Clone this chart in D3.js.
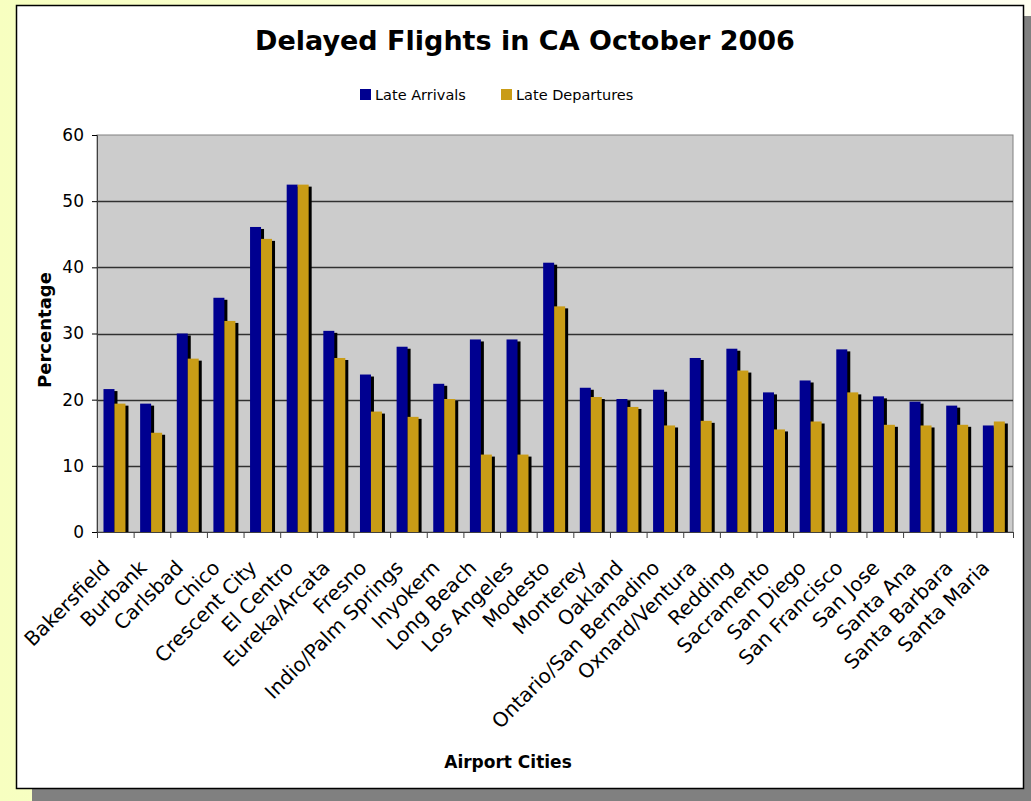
<!DOCTYPE html>
<html>
<head>
<meta charset="utf-8">
<script src="https://cdn.jsdelivr.net/npm/d3@7"></script>
<style>
  html, body { margin: 0; padding: 0; }
  body { width: 1031px; height: 801px; overflow: hidden; }
  text { font-family: "DejaVu Sans", Verdana, sans-serif; fill: #000; }
</style>
</head>
<body>
<script>
const cities = ['Bakersfield', 'Burbank', 'Carlsbad', 'Chico', 'Crescent City', 'El Centro',
  'Eureka/Arcata', 'Fresno', 'Indio/Palm Springs', 'Inyokern', 'Long Beach', 'Los Angeles',
  'Modesto', 'Monterey', 'Oakland', 'Ontario/San Bernadino', 'Oxnard/Ventura', 'Redding',
  'Sacramento', 'San Diego', 'San Francisco', 'San Jose', 'Santa Ana', 'Santa Barbara', 'Santa Maria']
const lateArrivals = [21.6, 19.4, 30.0, 35.4, 46.1, 52.5, 30.4, 23.8, 28.0, 22.4, 29.1, 29.1,
  40.7, 21.8, 20.1, 21.5, 26.3, 27.7, 21.1, 22.9, 27.6, 20.5, 19.7, 19.1, 16.1]
const lateDepartures = [19.4, 15.0, 26.2, 31.9, 44.3, 52.5, 26.3, 18.2, 17.4, 20.1, 11.7, 11.7,
  34.1, 20.4, 18.9, 16.1, 16.8, 24.4, 15.5, 16.7, 21.1, 16.2, 16.1, 16.2, 16.7]
const seriesNames = ['Late Arrivals', 'Late Departures']
const yTicks = [0, 10, 20, 30, 40, 50, 60]

const colors = {
  arrivals: '#000090',
  departures: '#C99C16',
  plot: '#CCCCCC',
  grid: '#303030'
}

const width = 1031
const height = 801
const plot = { left: 97, right: 1013, top: 135, bottom: 532 }

const svg = d3.select('body').append('svg')
  .attr('width', width)
  .attr('height', height)

// page background + framed box with drop shadow
const grad = svg.append('defs').append('linearGradient')
  .attr('id', 'bg').attr('x1', 0).attr('x2', 1).attr('y1', 0).attr('y2', 0)
grad.append('stop').attr('offset', 0).attr('stop-color', '#F7FFC0')
grad.append('stop').attr('offset', 1).attr('stop-color', '#FFFFF0')

svg.append('rect').attr('width', width).attr('height', height).attr('fill', 'url(#bg)')
svg.append('rect')
  .attr('x', 32).attr('y', 16).attr('width', width).attr('height', height)
  .attr('fill', '#808080')
svg.append('rect')
  .attr('x', 16.5).attr('y', 5.5).attr('width', 1007).attr('height', 783)
  .attr('fill', '#fff').attr('stroke', '#000').attr('stroke-width', 1.5)

const x = d3.scaleBand()
  .domain(cities)
  .range([plot.left, plot.right])
const xEdge = d3.scaleLinear()
  .domain([0, cities.length])
  .range([plot.left, plot.right])
const bw = x.bandwidth()
const xs = d3.scaleBand()
  .domain(seriesNames)
  .range([bw * 0.177, bw * 0.777])
const y = d3.scaleLinear()
  .domain([0, 60])
  .range([plot.bottom, plot.top])

// plot area
svg.append('rect')
  .attr('x', plot.left).attr('y', plot.top)
  .attr('width', plot.right - plot.left).attr('height', plot.bottom - plot.top)
  .attr('fill', colors.plot).attr('stroke', '#808080').attr('stroke-width', 1)

// gridlines
svg.append('g')
  .selectAll('line')
  .data(yTicks.filter(d => d > 0 && d < 60))
  .enter()
  .append('line')
  .attr('x1', plot.left).attr('x2', plot.right)
  .attr('y1', d => Math.round(y(d)) + 0.5).attr('y2', d => Math.round(y(d)) + 0.5)
  .attr('stroke', colors.grid).attr('stroke-width', 1.3)

// bars with black shadow
const series = [
  { name: seriesNames[0], values: lateArrivals, color: colors.arrivals },
  { name: seriesNames[1], values: lateDepartures, color: colors.departures }
]
series.forEach(s => {
  const g = svg.append('g')
  g.selectAll('rect.shadow')
    .data(s.values)
    .enter()
    .append('rect')
    .attr('class', 'shadow')
    .attr('x', (d, i) => x(cities[i]) + xs(s.name) + 3)
    .attr('y', d => y(d) + 2)
    .attr('width', xs.bandwidth())
    .attr('height', d => plot.bottom - y(d) - 2)
    .attr('fill', '#000')
  g.selectAll('rect.bar')
    .data(s.values)
    .enter()
    .append('rect')
    .attr('class', 'bar')
    .attr('x', (d, i) => x(cities[i]) + xs(s.name))
    .attr('y', d => y(d))
    .attr('width', xs.bandwidth())
    .attr('height', d => plot.bottom - y(d))
    .attr('fill', s.color)
})

// axes
const yAxis = svg.append('g')
  .attr('transform', `translate(${plot.left}, 0)`)
  .call(d3.axisLeft(y).tickValues(yTicks).tickSize(5).tickPadding(8))
yAxis.select('.domain').attr('stroke', '#404040')
yAxis.selectAll('.tick line').attr('stroke', '#000')
yAxis.selectAll('text').style('font-size', '17px').attr('fill', '#000')

const xAxis = svg.append('g')
  .attr('transform', `translate(0, ${plot.bottom})`)
  .call(d3.axisBottom(xEdge).tickValues(d3.range(cities.length + 1)).tickFormat('').tickSize(6).tickSizeOuter(0))
xAxis.select('.domain').attr('stroke', '#404040')
xAxis.selectAll('.tick line').attr('stroke', '#404040')

svg.append('g')
  .selectAll('text')
  .data(cities)
  .enter()
  .append('text')
  .attr('transform', d => `translate(${x(d) + bw / 2 - 4}, 569) rotate(-45)`)
  .attr('text-anchor', 'end')
  .style('font-size', '20px')
  .text(d => d)

// titles
svg.append('text')
  .attr('x', 525).attr('y', 50)
  .attr('text-anchor', 'middle')
  .style('font-size', '27px').style('font-weight', 'bold')
  .text('Delayed Flights in CA October 2006')

svg.append('text')
  .attr('x', 508).attr('y', 768)
  .attr('text-anchor', 'middle')
  .style('font-size', '17px').style('font-weight', 'bold')
  .text('Airport Cities')

svg.append('text')
  .attr('transform', 'translate(51, 330) rotate(-90)')
  .attr('text-anchor', 'middle')
  .style('font-size', '18px').style('font-weight', 'bold')
  .text('Percentage')

// legend
const legendX = [360, 501]
const legend = svg.append('g')
  .selectAll('g')
  .data(series)
  .enter()
  .append('g')
  .attr('transform', (d, i) => `translate(${legendX[i]}, 89)`)
legend.append('rect')
  .attr('width', 11).attr('height', 11)
  .attr('fill', d => d.color)
legend.append('text')
  .attr('x', 15).attr('y', 11)
  .style('font-size', '14.5px')
  .text(d => d.name)
</script>
</body>
</html>
